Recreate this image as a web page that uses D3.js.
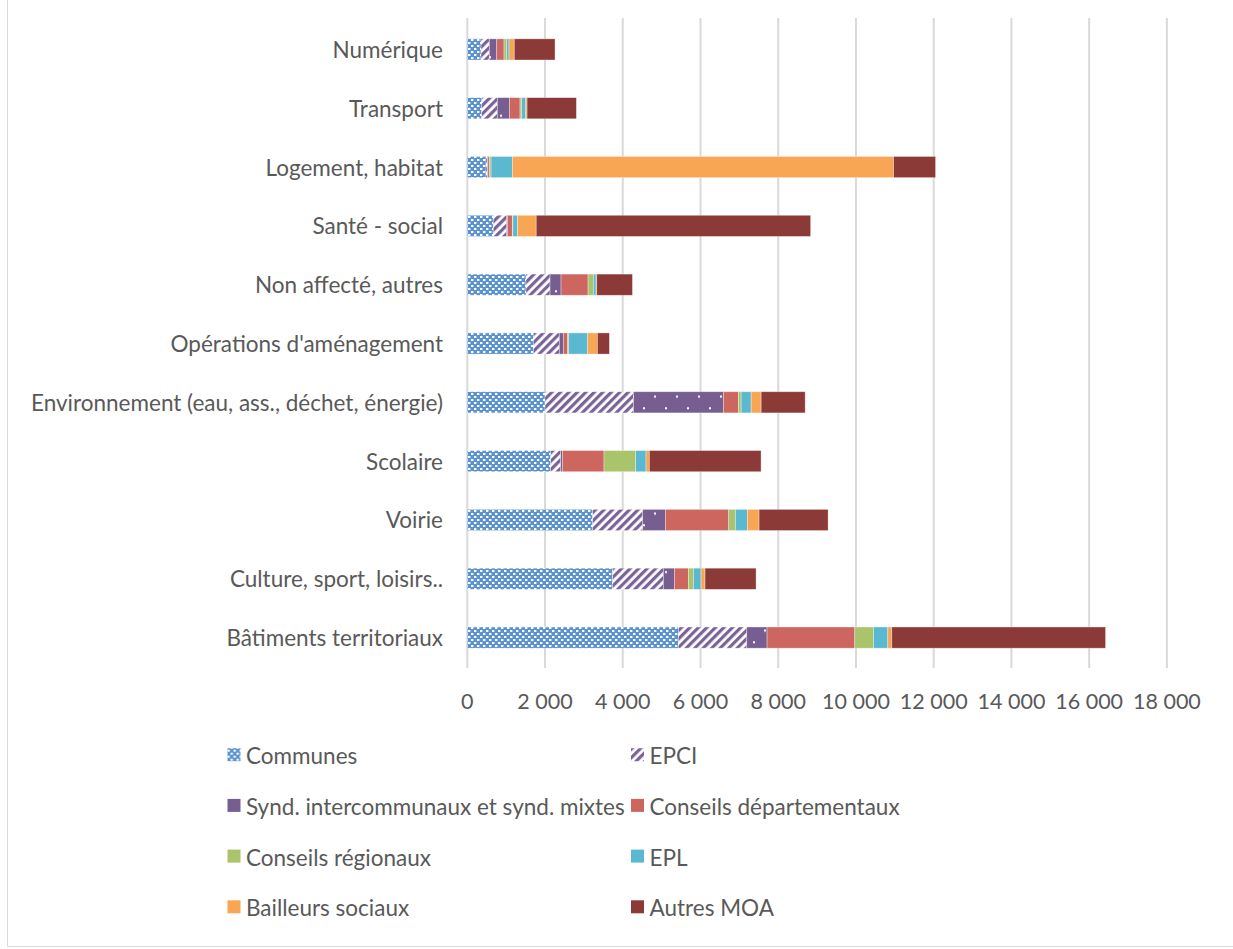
<!DOCTYPE html>
<html>
<head>
<meta charset="utf-8">
<script src="https://cdn.jsdelivr.net/npm/d3@7"></script>
<style>
  html, body { margin: 0; padding: 0; background: #fff; }
  svg { display: block; font-family: Lato, "Open Sans", sans-serif; }
</style>
</head>
<body>
<svg id="chart" width="1233" height="949"></svg>
<script>
// Investment by project owner type, per sector
const categories = [
  "Numérique",
  "Transport",
  "Logement, habitat",
  "Santé - social",
  "Non affecté, autres",
  "Opérations d'aménagement",
  "Environnement (eau, ass., déchet, énergie)",
  "Scolaire",
  "Voirie",
  "Culture, sport, loisirs..",
  "Bâtiments territoriaux"
];

const seriesNames = [
  "Communes",
  "EPCI",
  "Synd. intercommunaux et synd. mixtes",
  "Conseils départementaux",
  "Conseils régionaux",
  "EPL",
  "Bailleurs sociaux",
  "Autres MOA"
];

const communes      = [353, 371, 481, 669, 1511, 1699, 2000, 2145, 3226, 3741, 5431];
const epci          = [214, 402, 34, 343, 618, 669, 2274, 257, 1287, 1304, 1759];
const syndicats     = [190, 309, 13, 26, 283, 103, 2317, 51, 583, 283, 523];
const departements  = [188, 275, 44, 120, 695, 112, 386, 1064, 1630, 360, 2257];
const regions       = [69, 44, 40, 15, 137, 26, 69, 815, 172, 129, 480];
const epl           = [59, 103, 548, 120, 69, 489, 257, 266, 309, 197, 369];
const bailleurs     = [136, 34, 9807, 480, 17, 249, 257, 86, 300, 103, 103];
const autres        = [1048, 1269, 1081, 7061, 919, 309, 1133, 2874, 1776, 1313, 5500];

const xTicks = [0, 2000, 4000, 6000, 8000, 10000, 12000, 14000, 16000, 18000];

const seriesValues = [communes, epci, syndicats, departements, regions, epl, bailleurs, autres];

const svg = d3.select("#chart");
const W = 1233, H = 949;
const FONT = 22.5;

// chart frame
svg.append("rect")
  .attr("x", 7.5).attr("y", -2)
  .attr("width", W + 4).attr("height", H - 0.5)
  .attr("fill", "none").attr("stroke", "#d9d9d9").attr("stroke-width", 1);

// fill patterns
const defs = svg.append("defs");

const pComm = defs.append("pattern").attr("id", "p-communes")
  .attr("patternUnits", "userSpaceOnUse").attr("width", 6).attr("height", 6);
pComm.append("rect").attr("width", 6).attr("height", 6).attr("fill", "#5b93cf");
pComm.append("rect").attr("x", 0).attr("y", 0).attr("width", 2).attr("height", 2).attr("fill", "#fff");
pComm.append("rect").attr("x", 3).attr("y", 3).attr("width", 2).attr("height", 2).attr("fill", "#fff");
pComm.append("rect").attr("x", 2).attr("y", 0.5).attr("width", 1).attr("height", 1).attr("fill", "#dbe7f5");
pComm.append("rect").attr("x", 5).attr("y", 3.5).attr("width", 1).attr("height", 1).attr("fill", "#dbe7f5");

const pEpci = defs.append("pattern").attr("id", "p-epci")
  .attr("patternUnits", "userSpaceOnUse").attr("width", 6).attr("height", 6)
  .attr("patternTransform", "rotate(45)");
pEpci.append("rect").attr("width", 6).attr("height", 6).attr("fill", "#fff");
pEpci.append("rect").attr("width", 3.2).attr("height", 6).attr("fill", "#7a6399");

const pSynd = defs.append("pattern").attr("id", "p-synd")
  .attr("patternUnits", "userSpaceOnUse").attr("width", 22).attr("height", 23.4)
  .attr("x", 0).attr("y", 0.5);
pSynd.append("rect").attr("width", 22).attr("height", 23.4).attr("fill", "#765e91");
pSynd.append("rect").attr("x", 5).attr("y", 9).attr("width", 2).attr("height", 2).attr("fill", "#fff");
pSynd.append("rect").attr("x", 16).attr("y", 20.7).attr("width", 2).attr("height", 2).attr("fill", "#fff");

const fills = [
  "url(#p-communes)",
  "url(#p-epci)",
  "url(#p-synd)",
  "#cd665f",
  "#a9c46b",
  "#5ab8d1",
  "#f8a653",
  "#8b3a38"
];

// scales
const x = d3.scaleLinear().domain([0, 18000]).range([467.3, 1166.9]);
const y = d3.scaleBand().domain(categories).range([20, 667])
  .paddingInner(0.64).paddingOuter(0.32);

// vertical gridlines
svg.append("g").selectAll("line")
  .data(xTicks)
  .join("line")
  .attr("x1", d => x(d)).attr("x2", d => x(d))
  .attr("y1", 18).attr("y2", 668)
  .attr("stroke", "#d9d9d9").attr("stroke-width", 2);

// stacked bars
const rows = categories.map((c, i) => {
  const r = { cat: c };
  seriesNames.forEach((s, k) => { r[s] = seriesValues[k][i]; });
  return r;
});
const stacked = d3.stack().keys(seriesNames)(rows);

svg.append("g").selectAll("g")
  .data(stacked)
  .join("g")
  .attr("fill", (d, k) => fills[k])
  .selectAll("rect")
  .data(d => d)
  .join("rect")
  .attr("x", d => x(d[0]))
  .attr("width", d => x(d[1]) - x(d[0]))
  .attr("y", d => y(d.data.cat))
  .attr("height", y.bandwidth())
  .attr("stroke", "#fff").attr("stroke-opacity", 0.45).attr("stroke-width", 0.75);

// category labels
svg.append("g").selectAll("text")
  .data(categories)
  .join("text")
  .attr("x", 443)
  .attr("y", d => y(d) + y.bandwidth() / 2)
  .attr("text-anchor", "end")
  .attr("dominant-baseline", "central")
  .attr("font-size", FONT)
  .attr("fill", "#595959")
  .text(d => d);

// x axis tick labels
const fmt = v => d3.format(",")(v).replace(/,/g, " ");
svg.append("g").selectAll("text")
  .data(xTicks)
  .join("text")
  .attr("x", d => x(d))
  .attr("y", 701)
  .attr("text-anchor", "middle")
  .attr("dominant-baseline", "central")
  .attr("font-size", 21.5)
  .attr("fill", "#595959")
  .text(d => fmt(d));

// legend: two columns, four rows
const legend = svg.append("g");
const item = legend.selectAll("g")
  .data(seriesNames)
  .join("g")
  .attr("transform", (d, k) => `translate(${k % 2 === 0 ? 227.5 : 631}, ${755.7 + Math.floor(k / 2) * 50.7})`);
item.append("rect")
  .attr("x", 0).attr("y", -7.5)
  .attr("width", 13).attr("height", 13)
  .attr("fill", (d, k) => fills[k]);
item.append("text")
  .attr("x", 18.5).attr("y", 0)
  .attr("dominant-baseline", "central")
  .attr("font-size", FONT)
  .attr("fill", "#595959")
  .text(d => d);
</script>
</body>
</html>
